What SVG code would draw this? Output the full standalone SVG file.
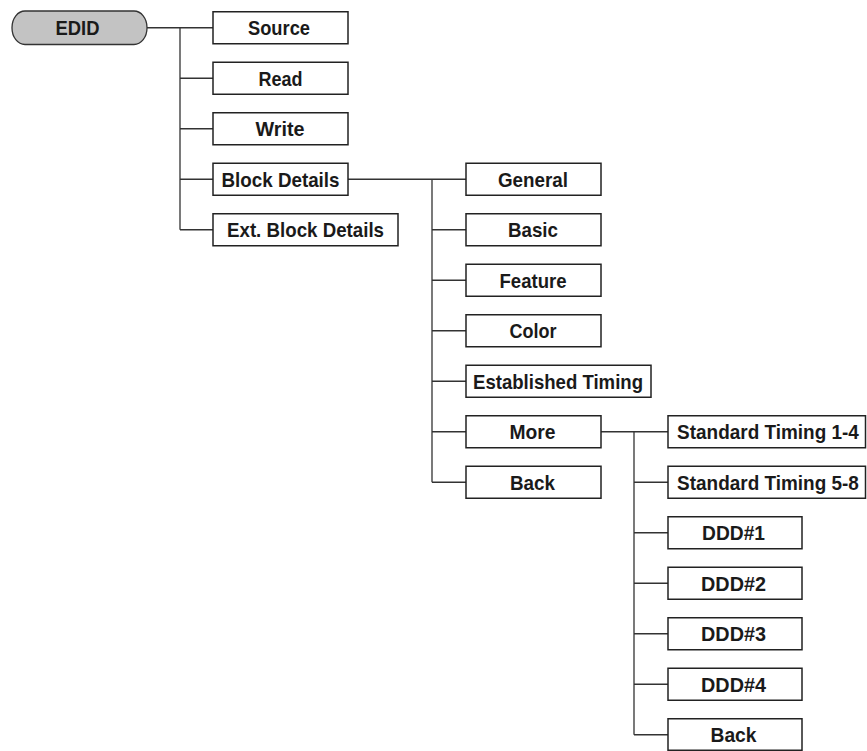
<svg xmlns="http://www.w3.org/2000/svg" width="867" height="751" viewBox="0 0 867 751">
<style>
.box{fill:#fff;stroke:#222;stroke-width:1.5}
.pill{fill:#c3c3c3;stroke:#333;stroke-width:1.3}
.lbl{font-family:"Liberation Sans Narrow","Liberation Sans",Arial,sans-serif;font-weight:bold;font-size:20.5px;fill:#1a1a1a;text-anchor:middle}
.conn{fill:none;stroke:#333;stroke-width:1.3}
</style>
<rect width="867" height="751" fill="#fff"/>
<g id="connectors" class="conn">
<path d="M147 27.75H213M180 27.75V229.75M180 78.25H213M180 128.75H213M180 179.25H213M180 229.75H213"/>
<path d="M348 179.25H466M432 179.25V482.25M432 229.75H466M432 280.25H466M432 330.75H466M432 381.25H466M432 431.75H466M432 482.25H466"/>
<path d="M601 431.75H668M634 431.75V734.75M634 482.25H668M634 532.75H668M634 583.25H668M634 633.75H668M634 684.25H668M634 734.75H668"/>
</g>
<g id="edid"><rect class="pill" x="12" y="11" width="135" height="33.5" rx="13" ry="16.5"/><text class="lbl" x="77.5" y="35" textLength="44" lengthAdjust="spacingAndGlyphs">EDID</text></g>
<g id="source"><rect class="box" x="213" y="11.75" width="135" height="32"/><text class="lbl" x="279" y="35" textLength="62" lengthAdjust="spacingAndGlyphs">Source</text></g>
<g id="read"><rect class="box" x="213" y="62.25" width="135" height="32"/><text class="lbl" x="280.5" y="85.5" textLength="44" lengthAdjust="spacingAndGlyphs">Read</text></g>
<g id="write"><rect class="box" x="213" y="112.75" width="135" height="32"/><text class="lbl" x="280" y="136" textLength="49" lengthAdjust="spacingAndGlyphs">Write</text></g>
<g id="block-details"><rect class="box" x="213" y="163.25" width="135" height="32"/><text class="lbl" x="280.5" y="186.5" textLength="118" lengthAdjust="spacingAndGlyphs">Block Details</text></g>
<g id="ext-block-details"><rect class="box" x="213" y="213.75" width="185" height="32"/><text class="lbl" x="305.5" y="237" textLength="157" lengthAdjust="spacingAndGlyphs">Ext. Block Details</text></g>
<g id="general"><rect class="box" x="466" y="163.25" width="135" height="32"/><text class="lbl" x="533" y="186.5" textLength="70" lengthAdjust="spacingAndGlyphs">General</text></g>
<g id="basic"><rect class="box" x="466" y="213.75" width="135" height="32"/><text class="lbl" x="533" y="237" textLength="50" lengthAdjust="spacingAndGlyphs">Basic</text></g>
<g id="feature"><rect class="box" x="466" y="264.25" width="135" height="32"/><text class="lbl" x="533" y="287.5" textLength="67" lengthAdjust="spacingAndGlyphs">Feature</text></g>
<g id="color"><rect class="box" x="466" y="314.75" width="135" height="32"/><text class="lbl" x="533" y="338" textLength="47" lengthAdjust="spacingAndGlyphs">Color</text></g>
<g id="established-timing"><rect class="box" x="466" y="365.25" width="185" height="32"/><text class="lbl" x="558" y="388.5" textLength="170" lengthAdjust="spacingAndGlyphs">Established Timing</text></g>
<g id="more"><rect class="box" x="466" y="415.75" width="135" height="32"/><text class="lbl" x="532.5" y="439" textLength="46" lengthAdjust="spacingAndGlyphs">More</text></g>
<g id="back1"><rect class="box" x="466" y="466.25" width="135" height="32"/><text class="lbl" x="532.5" y="489.5" textLength="45" lengthAdjust="spacingAndGlyphs">Back</text></g>
<g id="std-timing-1-4"><rect class="box" x="668" y="415.75" width="197.5" height="32"/><text class="lbl" transform="translate(768 439) scale(0.925 1)">Standard Timing 1-4</text></g>
<g id="std-timing-5-8"><rect class="box" x="668" y="466.25" width="197.5" height="32"/><text class="lbl" transform="translate(768 489.5) scale(0.925 1)">Standard Timing 5-8</text></g>
<g id="ddd1"><rect class="box" x="668" y="516.75" width="134" height="32"/><text class="lbl" x="733.5" y="540" textLength="63" lengthAdjust="spacingAndGlyphs">DDD#1</text></g>
<g id="ddd2"><rect class="box" x="668" y="567.25" width="134" height="32"/><text class="lbl" x="733.5" y="590.5" textLength="65" lengthAdjust="spacingAndGlyphs">DDD#2</text></g>
<g id="ddd3"><rect class="box" x="668" y="617.75" width="134" height="32"/><text class="lbl" x="733.5" y="641" textLength="65" lengthAdjust="spacingAndGlyphs">DDD#3</text></g>
<g id="ddd4"><rect class="box" x="668" y="668.25" width="134" height="32"/><text class="lbl" x="733.5" y="691.5" textLength="65" lengthAdjust="spacingAndGlyphs">DDD#4</text></g>
<g id="back2"><rect class="box" x="668" y="718.75" width="134" height="31.5"/><text class="lbl" x="733.5" y="742" textLength="46" lengthAdjust="spacingAndGlyphs">Back</text></g>
</svg>
